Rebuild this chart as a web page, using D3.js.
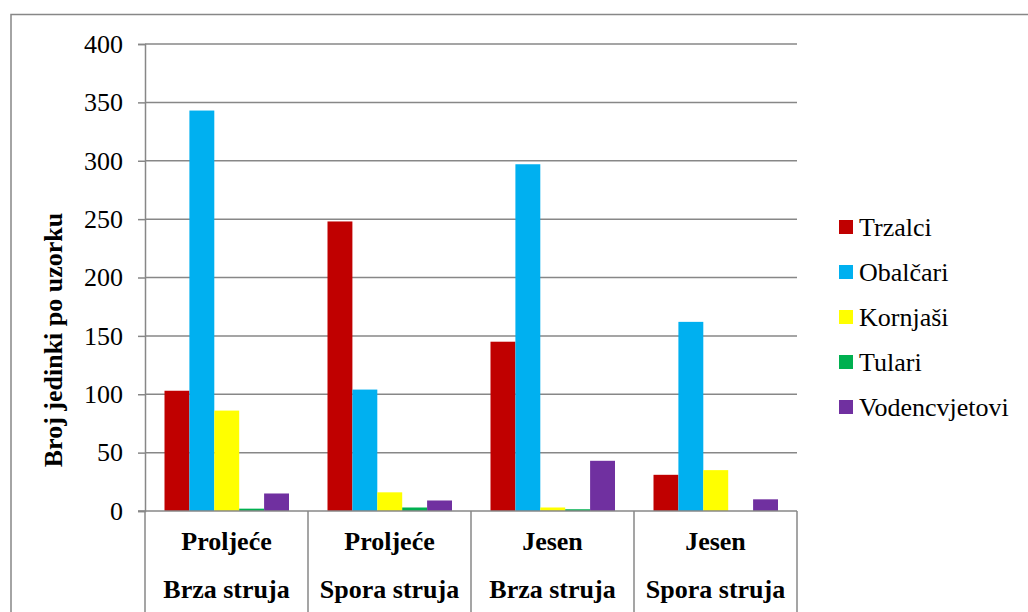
<!DOCTYPE html>
<html>
<head>
<meta charset="utf-8">
<script src="https://cdn.jsdelivr.net/npm/d3@7"></script>
<style>
  html, body { margin: 0; padding: 0; background: #fff; }
  svg { display: block; }
</style>
</head>
<body>
<svg id="chart" width="1028" height="612"></svg>
<script>
const seasons = ["Proljeće", "Proljeće", "Jesen", "Jesen"];
const currents = ["Brza struja", "Spora struja", "Brza struja", "Spora struja"];
const seriesNames = ["Trzalci", "Obalčari", "Kornjaši", "Tulari", "Vodencvjetovi"];
const trzalci = [103, 248, 145, 31];
const obalcari = [343, 104, 297, 162];
const kornjasi = [86, 16, 3, 35];
const tulari = [2, 3, 1.5, 0];
const vodencvjetovi = [15, 9, 43, 10];
const seriesColors = ["#C00000", "#00B0F0", "#FFFF00", "#00B050", "#7030A0"];
const yTicks = [0, 50, 100, 150, 200, 250, 300, 350, 400];
const yTitle = "Broj jedinki po uzorku";

const seriesValues = [trzalci, obalcari, kornjasi, tulari, vodencvjetovi];
const groupIds = d3.range(seasons.length);
const FONT = "'Liberation Serif', 'Tinos', 'DejaVu Serif', 'Noto Serif', 'Nimbus Roman', 'Nimbus Roman No9 L', 'FreeSerif', 'Times New Roman', Times, serif";

const svg = d3.select("#chart").style("font-family", FONT);
const gridColor = "#878787";

// outer border
svg.append("path")
  .attr("d", "M11,640 L11,14.5 L1040,14.5")
  .attr("fill", "none").attr("stroke", gridColor).attr("stroke-width", 1.5);

const pLeft = 145, pRight = 797, pTop = 44, pBottom = 511;

const x0 = d3.scaleBand().domain(groupIds).range([pLeft, pRight]).padding(0);
const x1 = d3.scaleBand().domain(d3.range(seriesNames.length))
  .range([19.5, x0.bandwidth() - 19]).padding(0);
const y = d3.scaleLinear().domain([0, 400]).range([pBottom, pTop]);

// gridlines
svg.append("g").selectAll("line").data(yTicks.filter(t => t > 0)).join("line")
  .attr("x1", pLeft).attr("x2", pRight)
  .attr("y1", d => y(d)).attr("y2", d => y(d))
  .attr("stroke", gridColor).attr("stroke-width", 1.5);

// y axis
const yAxis = d3.axisLeft(y).tickValues(yTicks).tickSize(7).tickPadding(15).tickFormat(d3.format("d"));
const gy = svg.append("g").attr("transform", `translate(${pLeft},0)`).call(yAxis)
  .attr("font-family", null).attr("font-size", null);
gy.select(".domain").attr("stroke", gridColor).attr("stroke-width", 1.5);
gy.selectAll(".tick line").attr("stroke", gridColor).attr("stroke-width", 1.5);
gy.selectAll(".tick text")
  .style("font-family", FONT)
  .style("font-size", "26px").attr("fill", "#000");

// bars
const groups = svg.append("g").selectAll("g").data(groupIds).join("g")
  .attr("transform", d => `translate(${x0(d)},0)`);
groups.selectAll("rect")
  .data(g => seriesValues.map((vals, si) => ({ si, v: vals[g] })))
  .join("rect")
  .attr("x", d => x1(d.si))
  .attr("width", x1.bandwidth())
  .attr("y", d => y(d.v))
  .attr("height", d => y(0) - y(d.v))
  .attr("fill", d => seriesColors[d.si]);

// x axis line
svg.append("line").attr("x1", pLeft - 7).attr("x2", pRight)
  .attr("y1", pBottom).attr("y2", pBottom)
  .attr("stroke", gridColor).attr("stroke-width", 1.5);

// category separators
const seps = groupIds.map(g => x0(g)).concat([pRight]);
svg.append("g").selectAll("line").data(seps).join("line")
  .attr("x1", d => d).attr("x2", d => d)
  .attr("y1", pBottom).attr("y2", 640)
  .attr("stroke", gridColor).attr("stroke-width", 1.5);

// category labels
const labs = svg.append("g");
labs.selectAll("text.s").data(groupIds).join("text").attr("class", "s")
  .attr("x", d => x0(d) + x0.bandwidth() / 2).attr("y", 550)
  .attr("text-anchor", "middle").style("font-family", FONT)
  .style("font-size", "26px").style("font-weight", "bold")
  .text(d => seasons[d]);
labs.selectAll("text.c").data(groupIds).join("text").attr("class", "c")
  .attr("x", d => x0(d) + x0.bandwidth() / 2).attr("y", 598)
  .attr("text-anchor", "middle").style("font-family", FONT)
  .style("font-size", "26px").style("font-weight", "bold")
  .text(d => currents[d]);

// y title
svg.append("text")
  .attr("transform", "translate(62,340) rotate(-90)")
  .attr("text-anchor", "middle").style("font-family", FONT)
  .style("font-size", "26px").style("font-weight", "bold")
  .text(yTitle);

// legend
const legend = svg.append("g").selectAll("g").data(seriesNames).join("g")
  .attr("transform", (d, i) => `translate(839,${227 + i * 45})`);
legend.append("rect").attr("x", 0).attr("y", -7).attr("width", 14).attr("height", 14)
  .attr("fill", (d, i) => seriesColors[i]);
legend.append("text").attr("x", 20).attr("y", 0).attr("dy", "0.33em")
  .style("font-family", FONT).style("font-size", "26px").text(d => d);
</script>
</body>
</html>
